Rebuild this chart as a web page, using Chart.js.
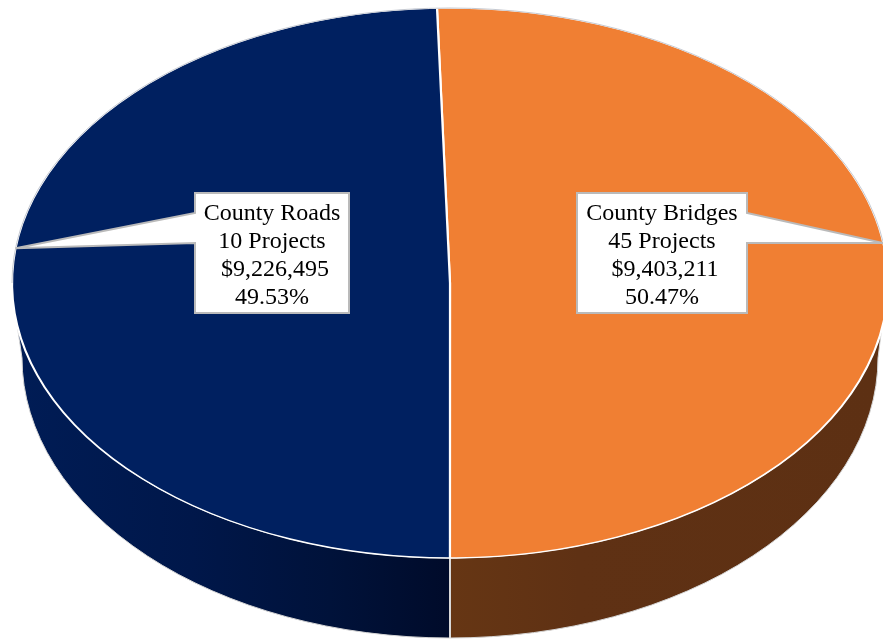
<!DOCTYPE html>
<html>
<head>
<meta charset="utf-8">
<script src="https://cdn.jsdelivr.net/npm/chart.js@4/dist/chart.umd.min.js"></script>
<style>
  html, body { margin: 0; padding: 0; background: #fff; overflow: hidden; }
  canvas { display: block; }
</style>
</head>
<body>
<canvas id="myChart" width="883" height="639"></canvas>
<script>
var categories = ["County Bridges", "County Roads"];
var amounts = [9403211, 9226495];
var projects = ["45 Projects", "10 Projects"];
var amountLabels = [" $9,403,211", " $9,226,495"];
var percentLabels = ["50.47%", "49.53%"];
var sliceColors = ["#F07F33", "#002060"];

// the pie is tilted: top face and the bottom of the wall are two ellipses
var topFace = { x: 450, y: 283, rx: 438, ry: 275 };
var bottomFace = { x: 450, y: 358, rx: 428, ry: 280 };
var wallRight = 0.172; // where the wall leaves the rim, radians
var wallLeft = Math.PI - 0.153;

// callout boxes, same order as categories
var callouts = [
  { left: 577, top: 193, right: 747, bottom: 313, tipAngle: -0.146, side: "right" },
  { left: 195, top: 193, right: 349, bottom: 313, tipAngle: Math.PI + 0.127, side: "left" }
];

function wallGradient(ctx, i) {
  var g = ctx.createLinearGradient(20, 0, 880, 0);
  if (i === 1) {
    g.addColorStop(0, "#001c55");
    g.addColorStop(0.2, "#00174a");
    g.addColorStop(0.36, "#00123a");
    g.addColorStop(0.5, "#000b2a");
  } else {
    g.addColorStop(0.5, "#663614");
    g.addColorStop(0.65, "#5f3114");
    g.addColorStop(1, "#5d3013");
  }
  return g;
}

function drawWall(ctx, arc, i) {
  var p = arc.getProps(["startAngle", "endAngle"]);
  var a0 = Math.max(p.startAngle, wallRight);
  var a1 = Math.min(p.endAngle, wallLeft);
  var b0 = a0 === wallRight ? 0 : a0;
  var b1 = a1 === wallLeft ? Math.PI : a1;
  ctx.beginPath();
  ctx.ellipse(topFace.x, topFace.y, topFace.rx, topFace.ry, 0, a0, a1, false);
  ctx.ellipse(bottomFace.x, bottomFace.y, bottomFace.rx, bottomFace.ry, 0, b1, b0, true);
  ctx.closePath();
  ctx.fillStyle = wallGradient(ctx, i);
  ctx.fill();
  ctx.lineWidth = 1;
  ctx.strokeStyle = "#d5d5d5";
  ctx.stroke();
}

function drawCallout(ctx, box, i) {
  var tipX = topFace.x + topFace.rx * Math.cos(box.tipAngle);
  var tipY = topFace.y + topFace.ry * Math.sin(box.tipAngle);
  var edge = box.side === "left" ? box.left : box.right;
  ctx.beginPath();
  ctx.moveTo(box.left, box.top);
  ctx.lineTo(box.right, box.top);
  if (box.side === "right") {
    ctx.lineTo(edge, 213);
    ctx.lineTo(tipX, tipY);
    ctx.lineTo(edge, 243);
  }
  ctx.lineTo(box.right, box.bottom);
  ctx.lineTo(box.left, box.bottom);
  if (box.side === "left") {
    ctx.lineTo(edge, 243);
    ctx.lineTo(tipX, tipY);
    ctx.lineTo(edge, 213);
  }
  ctx.closePath();
  ctx.fillStyle = "#ffffff";
  ctx.fill();
  ctx.lineWidth = 2;
  ctx.strokeStyle = "#bababa";
  ctx.stroke();

  var rows = [categories[i], projects[i], amountLabels[i], percentLabels[i]];
  var cx = (box.left + box.right) / 2;
  ctx.fillStyle = "#000000";
  ctx.font = '24px "Liberation Serif"';
  ctx.textAlign = "center";
  ctx.textBaseline = "alphabetic";
  rows.forEach(function (row, r) {
    ctx.fillText(row, cx, 220 + r * 28);
  });
}

var tiltedPie = {
  id: "tiltedPie",
  beforeDatasetsDraw: function (chart) {
    var ctx = chart.ctx;
    var arcs = chart.getDatasetMeta(0).data;
    arcs.forEach(function (arc, i) {
      drawWall(ctx, arc, i);
    });
    // divider on the wall
    ctx.beginPath();
    ctx.moveTo(topFace.x, topFace.y + topFace.ry);
    ctx.lineTo(bottomFace.x, bottomFace.y + bottomFace.ry);
    ctx.lineWidth = 2;
    ctx.strokeStyle = "#d8d8d8";
    ctx.stroke();

    var c = arcs[0].getProps(["x", "y", "outerRadius"]);
    ctx.save();
    ctx.translate(topFace.x, topFace.y);
    ctx.scale(topFace.rx / c.outerRadius, topFace.ry / c.outerRadius);
    ctx.translate(-c.x, -c.y);
  },
  afterDatasetsDraw: function (chart) {
    var ctx = chart.ctx;
    ctx.restore();
    // thin grey rim on the far side
    ctx.beginPath();
    ctx.ellipse(topFace.x, topFace.y, topFace.rx, topFace.ry, 0, Math.PI, Math.PI * 2);
    ctx.lineWidth = 1;
    ctx.strokeStyle = "#c6cad2";
    ctx.stroke();
    callouts.forEach(function (box, i) {
      drawCallout(ctx, box, i);
    });
  }
};

var ctx = document.getElementById("myChart").getContext("2d");
var myChart = new Chart(ctx, {
  type: "pie",
  data: {
    labels: categories,
    datasets: [
      {
        data: amounts,
        backgroundColor: sliceColors,
        borderColor: "#ffffff",
        borderWidth: 1.6,
        clip: false,
      },
    ],
  },
  options: {
    responsive: false,
    animation: false,
    rotation: -1.7,
    plugins: {
      legend: { display: false },
      tooltip: { enabled: false },
    },
  },
  plugins: [tiltedPie],
});
</script>
</body>
</html>
